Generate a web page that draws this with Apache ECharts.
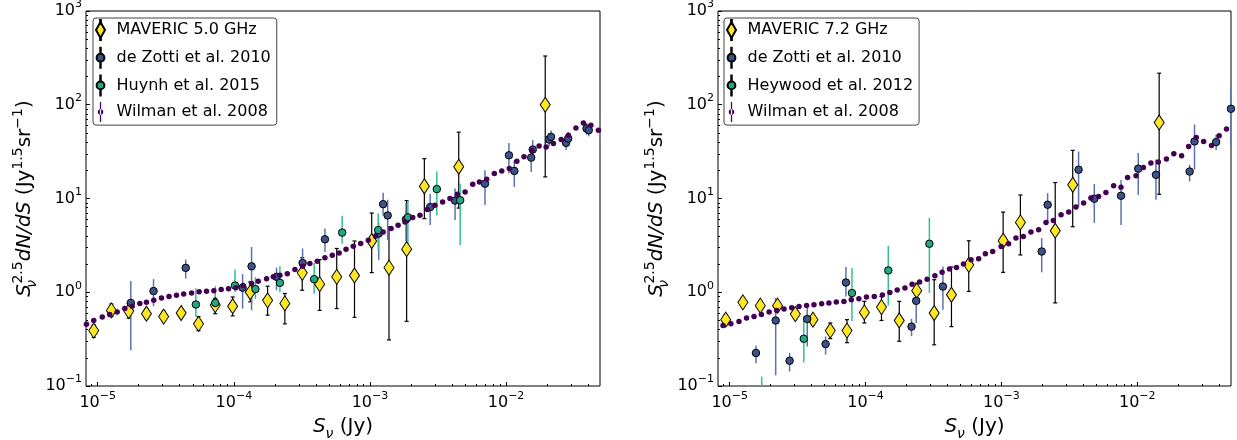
<!DOCTYPE html>
<html><head><meta charset="utf-8">
<script src="https://cdn.jsdelivr.net/npm/echarts@6/dist/echarts.min.js"></script>
<style>html,body{margin:0;padding:0;background:#fff}#c{width:1237px;height:440px}</style>
</head><body><div id="c"></div>
<script>
// ---------------- data ----------------
// Left panel: MAVERIC 5.0 GHz
const mav5X  = [9.35e-6,1.26e-5,1.69e-5,2.28e-5,3.05e-5,4.1e-5,5.5e-5,7.3e-5,9.8e-5,1.32e-4,1.77e-4,2.37e-4,3.18e-4,4.27e-4,5.7e-4,7.7e-4,1.03e-3,1.38e-3,1.86e-3,2.51e-3,4.49e-3,1.94e-2];
const mav5Y  = [0.39,0.64,0.63,0.59,0.55,0.60,0.46,0.73,0.71,1.0,0.82,0.76,1.61,1.22,1.46,1.51,3.52,1.83,2.88,13.5,21.8,100];
const mav5Lo = [0.33,0.55,0.53,0.52,0.49,0.54,0.39,0.59,0.56,0.79,0.57,0.46,1.05,0.64,0.67,0.54,1.62,0.31,0.49,6.1,7.9,17];
const mav5Hi = [0.45,0.75,0.76,0.67,0.63,0.67,0.55,0.86,0.89,1.29,1.16,0.97,2.34,2.23,2.93,3.52,7.0,5.0,9.5,26.6,51,331];
// Left panel: de Zotti et al. 2010
const dz5X  = [1.75e-5,2.57e-5,4.43e-5,1.16e-4,1.35e-4,2.06e-4,3.2e-4,4.67e-4,1.16e-3,1.25e-3,1.35e-3,1.84e-3,2.77e-3,4.22e-3,7.0e-3,1.05e-2,1.15e-2,1.53e-2,1.57e-2,2.07e-2,2.14e-2,2.76e-2,2.86e-2,3.9e-2,4.05e-2];
const dz5Y  = [0.77,1.03,1.82,1.12,1.89,1.46,2.05,3.67,4.23,8.7,6.6,6.0,8.1,9.5,14.4,28.9,19.7,27.3,33.3,42.6,45.4,39.2,43.6,55.7,53.5];
const dz5Lo = [0.24,0.71,1.4,0.67,0.64,1.05,1.34,2.69,2.2,6.6,3.6,3.5,5.2,5.9,8.5,18.5,13.3,19.2,26,36,38,33,37,48,46];
const dz5Hi = [1.32,1.38,2.23,1.56,3.04,1.83,2.93,4.78,5.5,11.5,9.7,9.0,11.2,12.8,20,39,25.6,35.5,42,50,53,46,51,64,62];
// Left panel: Huynh et al. 2015
const hu5X  = [5.26e-5,7.3e-5,1.02e-4,1.44e-4,2.18e-4,3.89e-4,6.25e-4,1.15e-3,1.9e-3,3.1e-3,4.6e-3];
const hu5Y  = [0.74,0.77,1.18,1.08,1.26,1.38,4.33,4.6,6.3,12.6,9.6];
const hu5Lo = [0.55,0.6,1.0,0.85,1.0,0.97,3.3,2.84,3.1,6.6,3.2];
const hu5Hi = [1.1,1.16,1.75,1.45,1.89,2.05,6.5,6.9,9.5,19.4,14.4];
// Left panel: Wilman et al. 2008
const wi5X = [8.26e-6,9.35e-6,1.08e-5,1.225e-5,1.39e-5,1.58e-5,1.79e-5,2.04e-5,2.28e-5,2.58e-5,2.94e-5,3.34e-5,3.79e-5,4.28e-5,4.89e-5,5.56e-5,6.3e-5,7.13e-5,8.07e-5,9.14e-5,1.035e-4,1.17e-4,1.35e-4,1.51e-4,1.74e-4,1.95e-4,2.18e-4,2.47e-4,2.81e-4,3.2e-4,3.62e-4,4.1e-4,4.67e-4,5.29e-4,5.94e-4,6.67e-4,7.54e-4,8.55e-4,9.72e-4,1.1e-3,1.25e-3,1.43e-3,1.61e-3,1.81e-3,2.06e-3,2.33e-3,2.64e-3,3.0e-3,3.42e-3,3.87e-3,4.39e-3,5.0e-3,5.69e-3,6.37e-3,7.21e-3,8.2e-3,9.3e-3,1.057e-2,1.2e-2,1.355e-2,1.545e-2,1.75e-2,1.97e-2,2.23e-2,2.54e-2,2.87e-2,3.26e-2,3.7e-2,4.2e-2,4.77e-2];
const wi5Y = [0.456,0.50,0.545,0.58,0.617,0.67,0.709,0.757,0.782,0.82,0.869,0.90,0.929,0.96,0.983,1.01,1.025,1.04,1.07,1.09,1.12,1.18,1.24,1.31,1.39,1.46,1.52,1.58,1.75,1.89,2.02,2.14,2.34,2.48,2.62,2.88,3.1,3.31,3.59,3.96,4.4,4.78,5.18,5.62,6.26,6.63,7.62,8.47,9.19,9.98,11.1,11.75,14.2,15.0,16.0,18.5,19.7,20.9,25,27.8,32.7,36.4,35.5,38.6,42.6,47.3,56.6,64,60.4,53.5];

// Right panel: MAVERIC 7.2 GHz
const mav7X  = [9.35e-6,1.25e-5,1.68e-5,2.25e-5,3.04e-5,4.1e-5,5.5e-5,7.3e-5,9.8e-5,1.31e-4,1.77e-4,2.38e-4,3.2e-4,4.29e-4,5.75e-4,1.03e-3,1.38e-3,2.49e-3,3.35e-3,1.45e-2];
const mav7Y  = [0.51,0.78,0.72,0.72,0.585,0.51,0.39,0.39,0.61,0.695,0.50,1.04,0.60,0.94,1.96,3.54,5.56,4.53,14,64.7];
const mav7Lo = [0.45,0.70,0.64,0.64,0.52,0.45,0.32,0.29,0.47,0.50,0.30,0.83,0.275,0.43,1.02,1.63,2.5,0.77,5.0,11.1];
const mav7Hi = [0.58,0.87,0.80,0.80,0.66,0.58,0.47,0.51,0.80,0.90,0.80,1.25,1.36,1.86,3.54,7.16,10.9,14.8,32.6,217];
// Right panel: de Zotti et al. 2010
const dz7X  = [1.56e-5,2.18e-5,2.76e-5,3.72e-5,5.08e-5,7.17e-5,2.18e-4,2.36e-4,3.71e-4,1.98e-3,2.19e-3,3.7e-3,4.83e-3,7.6e-3,1.017e-2,1.374e-2,2.43e-2,2.64e-2,3.81e-2,4.895e-2];
const dz7Y  = [0.225,0.50,0.186,0.518,0.28,1.27,0.43,0.81,1.15,2.72,8.58,20.3,9.94,10.7,20.8,17.9,19.4,40.6,40,90.6];
const dz7Lo = [0.175,0.13,0.143,0.264,0.216,0.9,0.34,0.47,0.65,1.63,5.5,8.2,5.5,5.2,10.9,9.7,15.2,20.3,33,36];
const dz7Hi = [0.27,0.87,0.226,0.705,0.338,1.86,0.52,1.25,1.88,3.78,11.4,31.7,14.3,15.8,30.5,26,22.9,61.5,47.9,154];
// Right panel: Heywood et al. 2012
const he7X  = [1.72e-5,3.51e-5,7.94e-5,1.47e-4,2.95e-4];
const he7Y  = [0.07,0.319,0.98,1.71,3.29];
const he7Lo = [0.04,0.178,0.49,0.72,0.98];
const he7Hi = [0.126,0.552,1.81,3.13,6.2];
// Right panel: Wilman et al. 2008
const wi7X = [8.93e-6,1.02e-5,1.17e-5,1.33e-5,1.51e-5,1.71e-5,1.95e-5,2.22e-5,2.51e-5,2.86e-5,3.24e-5,3.68e-5,4.17e-5,4.75e-5,5.37e-5,6.09e-5,6.93e-5,7.85e-5,8.93e-5,1.016e-4,1.16e-4,1.33e-4,1.51e-4,1.71e-4,1.95e-4,2.2e-4,2.5e-4,2.84e-4,3.24e-4,3.66e-4,4.15e-4,4.67e-4,5.26e-4,5.98e-4,6.8e-4,7.62e-4,8.63e-4,9.95e-4,1.13e-3,1.28e-3,1.45e-3,1.65e-3,1.88e-3,2.13e-3,2.41e-3,2.75e-3,3.13e-3,3.54e-3,4.03e-3,4.56e-3,5.19e-3,5.88e-3,6.7e-3,7.59e-3,8.49e-3,9.8e-3,1.11e-2,1.26e-2,1.43e-2,1.64e-2,1.86e-2,2.12e-2,2.39e-2,2.72e-2,3.08e-2,3.52e-2,4.01e-2,4.54e-2];
const wi7Y = [0.443,0.461,0.489,0.531,0.552,0.58,0.615,0.64,0.662,0.684,0.706,0.724,0.736,0.754,0.767,0.785,0.798,0.832,0.853,0.889,0.902,0.933,0.995,1.06,1.11,1.22,1.29,1.38,1.5,1.63,1.77,1.84,2.0,2.22,2.28,2.57,2.72,3.08,3.29,3.78,3.94,4.39,4.64,5.56,5.84,6.71,7.16,8.1,8.94,10.1,10.5,11.6,13.7,13.2,16.8,17.5,21.4,23.9,24.5,26.4,30,28.6,35.9,44.8,40.6,36.8,46.7,55.1];

// axis ranges and tick labels
const xRange = [8.2e-6, 0.049];
const yRange = [0.1, 1000];
const xMajor = [1e-5, 1e-4, 1e-3, 1e-2];
const yMajor = [0.1, 1, 10, 100, 1000];
const legendLeft  = ['MAVERIC 5.0 GHz', 'de Zotti et al. 2010', 'Huynh et al. 2015', 'Wilman et al. 2008'];
const legendRight = ['MAVERIC 7.2 GHz', 'de Zotti et al. 2010', 'Heywood et al. 2012', 'Wilman et al. 2008'];

// ---------------- styling ----------------
const FONT = 'DejaVu Sans';
const C_MAV = '#fde725', C_DZ = '#3b528b', C_DZBAR = '#5a72ae', C_GR = '#22a884', C_GRBAR = '#33c08a', C_WI = '#440154';

function minorTicks(lo, hi) {
  const out = [];
  for (let e = -6; e <= 3; e++) for (let k = 2; k <= 9; k++) {
    const v = k * Math.pow(10, e);
    if (v > lo && v < hi) out.push(v);
  }
  return out;
}
const xMinor = minorTicks(xRange[0], xRange[1]);
const yMinor = minorTicks(yRange[0], yRange[1]);

function powLabel(v) {
  const e = Math.round(Math.log10(v));
  return '{b|10}{sup|' + (e < 0 ? '\u2212' + (-e) : String(e)) + '}';
}
const tickRich = {
  b:   { fontSize: 16, fontFamily: FONT, color: '#000', lineHeight: 24 },
  sup: { fontSize: 11, fontFamily: FONT, color: '#000', verticalAlign: 'top', lineHeight: 12 }
};
const nameRich = {
  r:   { fontSize: 20, fontFamily: FONT, color: '#000', lineHeight: 28 },
  it:  { fontSize: 20, fontFamily: FONT, fontStyle: 'italic', color: '#000', lineHeight: 28 },
  sup: { fontSize: 14, fontFamily: FONT, color: '#000', verticalAlign: 'top', lineHeight: 13 },
  sub: { fontSize: 14, fontFamily: FONT, fontStyle: 'italic', color: '#000', verticalAlign: 'bottom', lineHeight: 12, width: 0.5 },
  subx:{ fontSize: 14, fontFamily: FONT, fontStyle: 'italic', color: '#000', verticalAlign: 'bottom', lineHeight: 12 }
};
const nameStyle = { fontSize: 20, fontFamily: FONT, color: '#000', lineHeight: 28, rich: nameRich };
const tickLine = { color: '#000', width: 1 };

function makeX(gi) {
  return [
    { type: 'log', gridIndex: gi, position: 'bottom', min: xRange[0], max: xRange[1],
      axisLine: { show: false }, splitLine: { show: false },
      axisTick: { show: true, inside: true, length: 4, lineStyle: tickLine, customValues: xMajor },
      axisLabel: { customValues: xMajor, formatter: powLabel, margin: 5, fontSize: 16, lineHeight: 24,
                   fontFamily: FONT, color: '#000', rich: tickRich, hideOverlap: false },
      name: '{it|S}{subx|\u03bd}{r| (Jy)}', nameLocation: 'middle', nameGap: 27, nameMoveOverlap: false,
      nameTextStyle: nameStyle },
    { type: 'log', gridIndex: gi, position: 'bottom', min: xRange[0], max: xRange[1],
      axisLine: { show: false }, splitLine: { show: false },
      axisTick: { show: true, inside: true, length: 2, lineStyle: tickLine, customValues: xMinor },
      axisLabel: { show: false } }
  ];
}
function makeY(gi) {
  return [
    { type: 'log', gridIndex: gi, position: 'left', min: yRange[0], max: yRange[1],
      axisLine: { show: false }, splitLine: { show: false },
      axisTick: { show: true, inside: true, length: 4, lineStyle: tickLine, customValues: yMajor },
      axisLabel: { customValues: yMajor, formatter: powLabel, margin: 4, fontSize: 16, lineHeight: 24,
                   fontFamily: FONT, color: '#000', rich: tickRich, hideOverlap: false },
      name: '{it|S}{sub|\u03bd}{sup|2.5}{it|dN/dS}{r| (Jy}{sup|1.5}{r|sr}{sup|\u22121}{r|)}',
      nameLocation: 'middle', nameRotate: 90, nameGap: 47, nameMoveOverlap: false, nameTextStyle: nameStyle },
    { type: 'log', gridIndex: gi, position: 'left', min: yRange[0], max: yRange[1],
      axisLine: { show: false }, splitLine: { show: false },
      axisTick: { show: true, inside: true, length: 2, lineStyle: tickLine, customValues: yMinor },
      axisLabel: { show: false } }
  ];
}

function zip(xs, ys) { return xs.map((x, i) => [x, ys[i]]); }

function errSeries(ax, xs, lo, hi, color, width, cap) {
  return {
    type: 'custom', xAxisIndex: ax, yAxisIndex: ax, clip: true, silent: true,
    data: xs.map((x, i) => [x, lo[i], hi[i]]),
    encode: { x: 0, y: [1, 2] },
    renderItem: function (p, api) {
      const x = api.value(0);
      const a = api.coord([x, api.value(1)]);
      const b = api.coord([x, api.value(2)]);
      const st = { stroke: color, lineWidth: width };
      const ch = [{ type: 'line', shape: { x1: a[0], y1: a[1], x2: b[0], y2: b[1] }, style: st }];
      if (cap) {
        ch.push({ type: 'line', shape: { x1: a[0] - cap, y1: a[1], x2: a[0] + cap, y2: a[1] }, style: st });
        ch.push({ type: 'line', shape: { x1: b[0] - cap, y1: b[1], x2: b[0] + cap, y2: b[1] }, style: st });
      }
      return { type: 'group', children: ch };
    }
  };
}
function scat(ax, name, xs, ys, symbol, size, color, border) {
  return {
    type: 'scatter', name: name, xAxisIndex: ax, yAxisIndex: ax, clip: true, silent: true,
    symbol: symbol, symbolSize: size, data: zip(xs, ys),
    itemStyle: { color: color, borderColor: '#000', borderWidth: border, opacity: 1 }
  };
}

const ICON_MAV = 'path://M5.6,0L6.4,0L6.4,2.2L5.6,2.2Z M6,2 L10.5,10 L6,18 L1.5,10Z M5.6,17.8L6.4,17.8L6.4,20L5.6,20Z';
const ICON_CIR = 'path://M5.8,1L6.2,1L6.2,6.5L5.8,6.5Z M2.5,10 A3.5,3.5 0 1 0 9.5,10 A3.5,3.5 0 1 0 2.5,10Z M5.8,13.5L6.2,13.5L6.2,19L5.8,19Z';
const ICON_WI  = 'path://M5.5,2L6.5,2L6.5,18L5.5,18Z M3.8,10 A2.2,2.2 0 1 0 8.2,10 A2.2,2.2 0 1 0 3.8,10Z';

function makeLegend(left, names) {
  return {
    orient: 'vertical', left: left, top: 18, padding: [1, 6, 3, 2],
    itemWidth: 22, itemHeight: 20, itemGap: 5.7, selectedMode: false,
    backgroundColor: '#fff', borderColor: '#444', borderWidth: 1, borderRadius: 3,
    textStyle: { fontSize: 16, fontFamily: FONT, color: '#000' },
    data: [
      { name: names[0], icon: ICON_MAV },
      { name: names[1], icon: ICON_CIR },
      { name: names[2], icon: ICON_CIR },
      { name: names[3], icon: ICON_WI }
    ]
  };
}

const chart = echarts.init(document.getElementById('c'), null, { renderer: 'canvas' });
chart.setOption({
  animation: false,
  backgroundColor: '#fff',
  grid: [
    { left: 86, top: 11, width: 514, height: 375, show: true, borderColor: '#000', borderWidth: 1, backgroundColor: 'transparent', containLabel: false, outerBoundsMode: 'none' },
    { left: 718, top: 11, width: 513, height: 375, show: true, borderColor: '#000', borderWidth: 1, backgroundColor: 'transparent', containLabel: false, outerBoundsMode: 'none' }
  ],
  xAxis: makeX(0).concat(makeX(1)),
  yAxis: makeY(0).concat(makeY(1)),
  legend: [makeLegend(93, legendLeft), makeLegend(724, legendRight)],
  series: [
    errSeries(0, mav5X, mav5Lo, mav5Hi, '#000', 1.2, 2),
    scat(0, legendLeft[0], mav5X, mav5Y, 'diamond', [10, 15], C_MAV, 1),
    errSeries(0, dz5X, dz5Lo, dz5Hi, C_DZBAR, 1.5, 0),
    scat(0, legendLeft[1], dz5X, dz5Y, 'circle', 7.5, C_DZ, 1),
    errSeries(0, hu5X, hu5Lo, hu5Hi, C_GRBAR, 1.5, 0),
    scat(0, legendLeft[2], hu5X, hu5Y, 'circle', 7.5, C_GR, 1),
    scat(0, legendLeft[3], wi5X, wi5Y, 'circle', 5.5, C_WI, 0),

    errSeries(2, mav7X, mav7Lo, mav7Hi, '#000', 1.2, 2),
    scat(2, legendRight[0], mav7X, mav7Y, 'diamond', [10, 15], C_MAV, 1),
    errSeries(2, dz7X, dz7Lo, dz7Hi, C_DZBAR, 1.5, 0),
    scat(2, legendRight[1], dz7X, dz7Y, 'circle', 7.5, C_DZ, 1),
    errSeries(2, he7X, he7Lo, he7Hi, C_GRBAR, 1.5, 0),
    scat(2, legendRight[2], he7X, he7Y, 'circle', 7.5, C_GR, 1),
    scat(2, legendRight[3], wi7X, wi7Y, 'circle', 5.5, C_WI, 0)
  ]
});
</script>
</body></html>
